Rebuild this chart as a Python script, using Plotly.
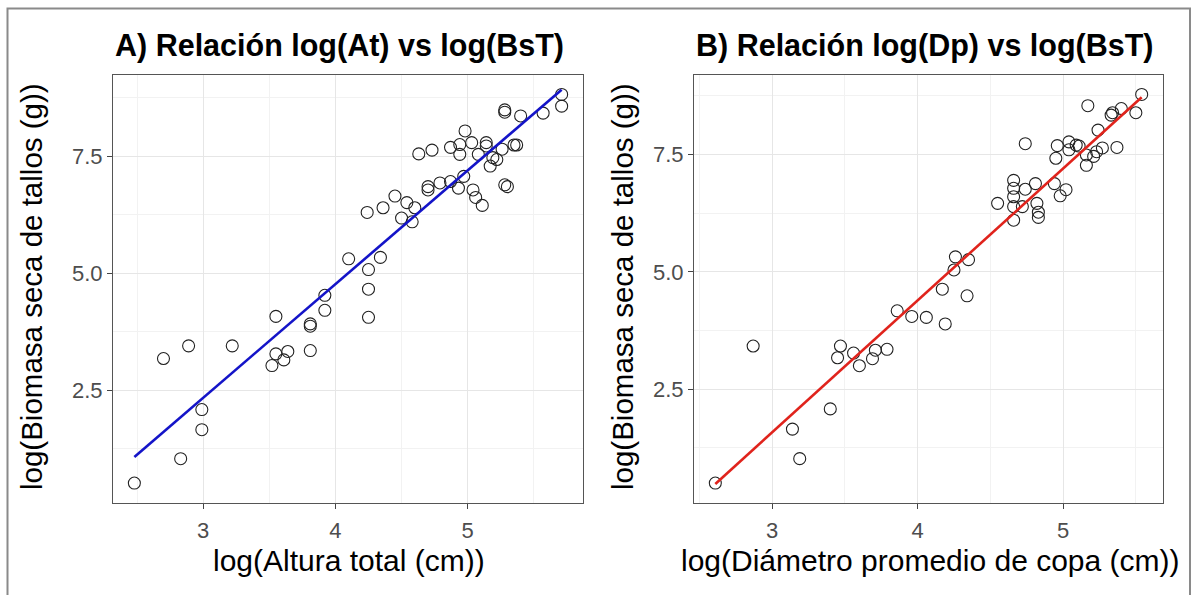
import numpy as np
import plotly.graph_objects as go

# Panel A: log(Altura total) vs log(Biomasa seca de tallos)
a_x = [2.48, 2.83, 2.99, 2.99, 2.70, 2.89, 3.22, 3.55, 3.55, 3.64, 3.61, 3.52,
       3.81, 3.81, 3.81, 3.92, 3.92, 4.10, 4.25, 4.25, 4.25, 4.34, 4.24, 4.36,
       4.45, 4.50, 4.58, 4.60, 4.54, 4.63, 4.73, 4.70, 4.70, 4.79, 4.87, 4.87,
       4.94, 4.94, 4.98, 5.03, 4.93, 4.97, 5.04, 5.06, 5.11, 5.08, 5.14, 5.14,
       5.17, 5.22, 5.19, 5.26, 5.35, 5.37, 5.28, 5.30, 5.28, 5.28, 5.40, 5.57,
       5.71, 5.71]
a_y = [0.52, 1.04, 1.66, 2.09, 3.18, 3.45, 3.45, 4.08, 3.28, 3.33, 3.15, 3.03,
       3.87, 3.92, 3.35, 4.21, 4.53, 5.31, 5.08, 4.66, 4.06, 5.34, 6.30, 6.40,
       6.65, 6.18, 6.10, 6.40, 6.51, 7.55, 7.63, 6.85, 6.78, 6.93, 6.96, 7.69,
       7.75, 7.54, 8.04, 7.79, 6.82, 7.07, 6.78, 6.62, 6.45, 7.54, 7.79, 7.72,
       7.29, 7.43, 7.47, 7.65, 7.74, 7.74, 6.89, 6.85, 8.49, 8.44, 8.36, 8.42,
       8.82, 8.57]

# Panel B: log(Diametro promedio de copa) vs log(Biomasa seca de tallos)
b_x = [2.61, 2.87, 3.14, 3.19, 3.40, 3.47, 3.45, 3.56, 3.60, 3.69, 3.71, 3.79,
       3.86, 3.96, 4.06, 4.19, 4.17, 4.25, 4.26, 4.35, 4.34, 4.55, 4.66, 4.66,
       4.66, 4.66, 4.66, 4.72, 4.74, 4.81, 4.82, 4.83, 4.83, 4.94, 4.98, 5.02,
       4.74, 4.95, 4.96, 5.04, 5.04, 5.09, 5.11, 5.16, 5.16, 5.21, 5.23, 5.27,
       5.37, 5.17, 5.24, 5.33, 5.34, 5.40, 5.50, 5.54]
b_y = [0.50, 3.42, 1.65, 1.02, 2.08, 3.42, 3.17, 3.27, 3.00, 3.15, 3.33, 3.35,
       4.17, 4.05, 4.03, 3.89, 4.63, 5.04, 5.32, 5.26, 4.49, 6.46, 6.95, 6.78,
       6.60, 6.39, 6.10, 6.39, 6.76, 6.88, 6.46, 6.27, 6.16, 6.88, 6.62, 6.75,
       7.73, 7.42, 7.69, 7.77, 7.60, 7.70, 7.68, 7.49, 7.27, 7.46, 7.56, 7.64,
       7.65, 8.54, 8.02, 8.34, 8.39, 8.48, 8.39, 8.78]

title_a = "A) Relación log(At) vs log(BsT)"
title_b = "B) Relación log(Dp) vs log(BsT)"
xlab_a = "log(Altura total (cm))"
xlab_b = "log(Diámetro promedio de copa (cm))"
ylab = "log(Biomasa seca de tallos (g))"
y_ticks = [2.5, 5.0, 7.5]
y_ticktext = ["2.5", "5.0", "7.5"]
x_ticks = [3, 4, 5]

W, H = 1194, 595
FONT = "Liberation Sans, Arial, sans-serif"

fig = go.Figure()

def add_panel(xs, ys, color, xa, ya):
    xs = np.array(xs); ys = np.array(ys)
    fig.add_trace(go.Scatter(x=xs, y=ys, mode="markers", xaxis=xa, yaxis=ya,
                             marker=dict(symbol="circle-open", size=12, color="#222222",
                                         line=dict(width=1.1, color="#222222")),
                             showlegend=False, hoverinfo="skip"))
    slope, inter = np.polyfit(xs, ys, 1)
    lx = np.array([xs.min(), xs.max()])
    fig.add_trace(go.Scatter(x=lx, y=slope * lx + inter, mode="lines", xaxis=xa, yaxis=ya,
                             line=dict(color=color, width=2.6),
                             showlegend=False, hoverinfo="skip"))

add_panel(a_x, a_y, "#1414c8", "x", "y")
add_panel(b_x, b_y, "#e0231c", "x2", "y2")

def xr(v):
    v = np.array(v); s = v.max() - v.min()
    return [v.min() - 0.05 * s, v.max() + 0.05 * s]

ax_common = dict(showline=True, mirror=True, linecolor="#555555", linewidth=1.2,
                 ticks="outside", ticklen=5, tickwidth=1.2, tickcolor="#444444",
                 showgrid=True, gridcolor="#e6e6e6", gridwidth=1.1,
                 zeroline=False,
                 tickfont=dict(family=FONT, size=22, color="#4d4d4d"))

minor_x = dict(dtick=0.5, tick0=0, showgrid=True, gridcolor="#f2f2f2", gridwidth=0.8, ticks="")
minor_y = dict(dtick=1.25, tick0=0, showgrid=True, gridcolor="#f2f2f2", gridwidth=0.8, ticks="")

pa_x = [113 / W, 583 / W]
pb_x = [694 / W, 1163 / W]
p_y = [1 - 502.5 / H, 1 - 75 / H]

fig.update_layout(
    width=W, height=H, margin=dict(l=0, r=0, t=0, b=0),
    paper_bgcolor="white", plot_bgcolor="white",
    xaxis=dict(domain=pa_x, anchor="y", range=xr(a_x), tickvals=x_ticks,
               minor=minor_x, ticklabelstandoff=3, **ax_common),
    yaxis=dict(domain=p_y, anchor="x", range=xr(a_y), tickvals=y_ticks, ticktext=y_ticktext,
               minor=minor_y, **ax_common),
    xaxis2=dict(domain=pb_x, anchor="y2", range=xr(b_x), tickvals=x_ticks,
                minor=minor_x, ticklabelstandoff=3, **ax_common),
    yaxis2=dict(domain=p_y, anchor="x2", range=xr(b_y), tickvals=y_ticks, ticktext=y_ticktext,
                minor=minor_y, **ax_common),
)

ann = []
for t, x0 in [(title_a, 113), (title_b, 694)]:
    ann.append(dict(text="<b>" + t + "</b>", x=x0 / W, y=1 - 46 / H, xref="paper", yref="paper",
                    xanchor="left", yanchor="middle", showarrow=False,
                    font=dict(family=FONT, size=30.5, color="black")))
ann.append(dict(text=xlab_a, x=349 / W, y=1 - 560 / H, xref="paper", yref="paper",
                xanchor="center", yanchor="middle", showarrow=False,
                font=dict(family=FONT, size=30, color="black")))
ann.append(dict(text=xlab_b, x=930 / W, y=1 - 560 / H, xref="paper", yref="paper",
                xanchor="center", yanchor="middle", showarrow=False,
                font=dict(family=FONT, size=30, color="black")))
for xc in [31, 622]:
    ann.append(dict(text=ylab, x=xc / W, y=1 - 287 / H, xref="paper", yref="paper",
                    xanchor="center", yanchor="middle", showarrow=False, textangle=-90,
                    font=dict(family=FONT, size=29.5, color="black")))
fig.update_layout(annotations=ann)

fig.add_shape(type="rect", xref="paper", yref="paper",
              x0=7.5 / W, x1=1190 / W, y0=-0.05, y1=1 - 8.5 / H,
              line=dict(color="#8a8a8a", width=2), fillcolor="rgba(0,0,0,0)", layer="above")

fig.write_html("out.html")
